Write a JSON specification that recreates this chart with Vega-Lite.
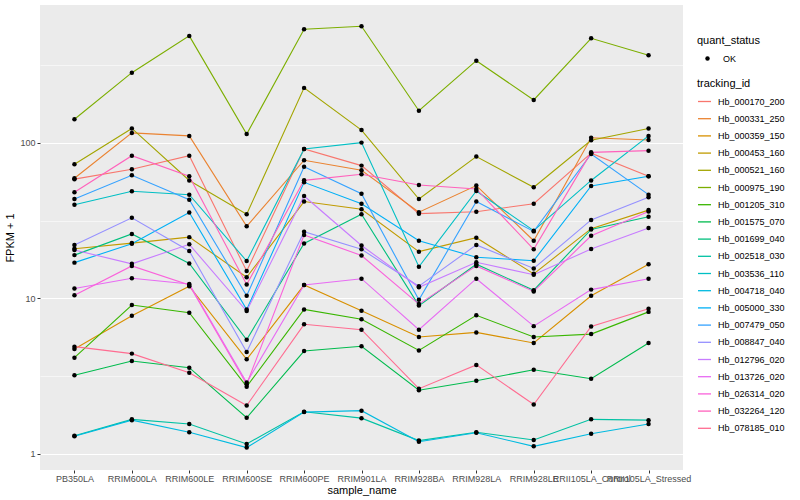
{
"$schema":"https://vega.github.io/schema/vega-lite/v6.json",
"width":643,"height":465,
"autosize":{"type":"none"},
"padding":{"left":40,"top":5,"right":117,"bottom":30},
"background":"white",
"config":{
 "view":{"fill":"#EBEBEB","stroke":null},
 "font":"Liberation Sans",
 "axis":{"domain":false,"gridColor":"white","tickColor":"#333333","tickSize":3,"tickWidth":1,"labelColor":"#4D4D4D","labelFontSize":9,"titleFontSize":11,"titleColor":"black","titleFontWeight":"normal","labelFont":"Liberation Sans","titleFont":"Liberation Sans"},
 "legend":{"titleFontSize":11,"titleFontWeight":"normal","titleColor":"black","labelFontSize":9,"labelColor":"black","titleFont":"Liberation Sans","labelFont":"Liberation Sans"}
},
"datasets":{"expr":[
{"sample_name":"PB350LA","tracking_id":"Hb_000170_200","fpkm_plus_1":58.5,"quant_status":"OK"},
{"sample_name":"RRIM600LA","tracking_id":"Hb_000170_200","fpkm_plus_1":67.8,"quant_status":"OK"},
{"sample_name":"RRIM600LE","tracking_id":"Hb_000170_200","fpkm_plus_1":82.8,"quant_status":"OK"},
{"sample_name":"RRIM600SE","tracking_id":"Hb_000170_200","fpkm_plus_1":15.0,"quant_status":"OK"},
{"sample_name":"RRIM600PE","tracking_id":"Hb_000170_200","fpkm_plus_1":91.5,"quant_status":"OK"},
{"sample_name":"RRIM901LA","tracking_id":"Hb_000170_200","fpkm_plus_1":71.5,"quant_status":"OK"},
{"sample_name":"RRIM928BA","tracking_id":"Hb_000170_200","fpkm_plus_1":35.1,"quant_status":"OK"},
{"sample_name":"RRIM928LA","tracking_id":"Hb_000170_200","fpkm_plus_1":36.1,"quant_status":"OK"},
{"sample_name":"RRIM928LE","tracking_id":"Hb_000170_200","fpkm_plus_1":40.7,"quant_status":"OK"},
{"sample_name":"RRII105LA_Control","tracking_id":"Hb_000170_200","fpkm_plus_1":86,"quant_status":"OK"},
{"sample_name":"RRII105LA_Stressed","tracking_id":"Hb_000170_200","fpkm_plus_1":61.1,"quant_status":"OK"},
{"sample_name":"PB350LA","tracking_id":"Hb_000331_250","fpkm_plus_1":59.3,"quant_status":"OK"},
{"sample_name":"RRIM600LA","tracking_id":"Hb_000331_250","fpkm_plus_1":116,"quant_status":"OK"},
{"sample_name":"RRIM600LE","tracking_id":"Hb_000331_250","fpkm_plus_1":111,"quant_status":"OK"},
{"sample_name":"RRIM600SE","tracking_id":"Hb_000331_250","fpkm_plus_1":29.1,"quant_status":"OK"},
{"sample_name":"RRIM600PE","tracking_id":"Hb_000331_250","fpkm_plus_1":77.4,"quant_status":"OK"},
{"sample_name":"RRIM901LA","tracking_id":"Hb_000331_250","fpkm_plus_1":66.7,"quant_status":"OK"},
{"sample_name":"RRIM928BA","tracking_id":"Hb_000331_250","fpkm_plus_1":35.9,"quant_status":"OK"},
{"sample_name":"RRIM928LA","tracking_id":"Hb_000331_250","fpkm_plus_1":53.2,"quant_status":"OK"},
{"sample_name":"RRIM928LE","tracking_id":"Hb_000331_250","fpkm_plus_1":23.5,"quant_status":"OK"},
{"sample_name":"RRII105LA_Control","tracking_id":"Hb_000331_250","fpkm_plus_1":108,"quant_status":"OK"},
{"sample_name":"RRII105LA_Stressed","tracking_id":"Hb_000331_250","fpkm_plus_1":104.5,"quant_status":"OK"},
{"sample_name":"PB350LA","tracking_id":"Hb_000359_150","fpkm_plus_1":4.73,"quant_status":"OK"},
{"sample_name":"RRIM600LA","tracking_id":"Hb_000359_150","fpkm_plus_1":7.75,"quant_status":"OK"},
{"sample_name":"RRIM600LE","tracking_id":"Hb_000359_150","fpkm_plus_1":12.0,"quant_status":"OK"},
{"sample_name":"RRIM600SE","tracking_id":"Hb_000359_150","fpkm_plus_1":4.06,"quant_status":"OK"},
{"sample_name":"RRIM600PE","tracking_id":"Hb_000359_150","fpkm_plus_1":12.2,"quant_status":"OK"},
{"sample_name":"RRIM901LA","tracking_id":"Hb_000359_150","fpkm_plus_1":8.35,"quant_status":"OK"},
{"sample_name":"RRIM928BA","tracking_id":"Hb_000359_150","fpkm_plus_1":5.65,"quant_status":"OK"},
{"sample_name":"RRIM928LA","tracking_id":"Hb_000359_150","fpkm_plus_1":6.05,"quant_status":"OK"},
{"sample_name":"RRIM928LE","tracking_id":"Hb_000359_150","fpkm_plus_1":5.17,"quant_status":"OK"},
{"sample_name":"RRII105LA_Control","tracking_id":"Hb_000359_150","fpkm_plus_1":10.4,"quant_status":"OK"},
{"sample_name":"RRII105LA_Stressed","tracking_id":"Hb_000359_150","fpkm_plus_1":16.6,"quant_status":"OK"},
{"sample_name":"PB350LA","tracking_id":"Hb_000453_160","fpkm_plus_1":20.9,"quant_status":"OK"},
{"sample_name":"RRIM600LA","tracking_id":"Hb_000453_160","fpkm_plus_1":22.7,"quant_status":"OK"},
{"sample_name":"RRIM600LE","tracking_id":"Hb_000453_160","fpkm_plus_1":24.8,"quant_status":"OK"},
{"sample_name":"RRIM600SE","tracking_id":"Hb_000453_160","fpkm_plus_1":13.7,"quant_status":"OK"},
{"sample_name":"RRIM600PE","tracking_id":"Hb_000453_160","fpkm_plus_1":42.0,"quant_status":"OK"},
{"sample_name":"RRIM901LA","tracking_id":"Hb_000453_160","fpkm_plus_1":37.5,"quant_status":"OK"},
{"sample_name":"RRIM928BA","tracking_id":"Hb_000453_160","fpkm_plus_1":20.0,"quant_status":"OK"},
{"sample_name":"RRIM928LA","tracking_id":"Hb_000453_160","fpkm_plus_1":24.6,"quant_status":"OK"},
{"sample_name":"RRIM928LE","tracking_id":"Hb_000453_160","fpkm_plus_1":14.4,"quant_status":"OK"},
{"sample_name":"RRII105LA_Control","tracking_id":"Hb_000453_160","fpkm_plus_1":28.1,"quant_status":"OK"},
{"sample_name":"RRII105LA_Stressed","tracking_id":"Hb_000453_160","fpkm_plus_1":37.0,"quant_status":"OK"},
{"sample_name":"PB350LA","tracking_id":"Hb_000521_160","fpkm_plus_1":72.9,"quant_status":"OK"},
{"sample_name":"RRIM600LA","tracking_id":"Hb_000521_160","fpkm_plus_1":124,"quant_status":"OK"},
{"sample_name":"RRIM600LE","tracking_id":"Hb_000521_160","fpkm_plus_1":57.4,"quant_status":"OK"},
{"sample_name":"RRIM600SE","tracking_id":"Hb_000521_160","fpkm_plus_1":34.8,"quant_status":"OK"},
{"sample_name":"RRIM600PE","tracking_id":"Hb_000521_160","fpkm_plus_1":226,"quant_status":"OK"},
{"sample_name":"RRIM901LA","tracking_id":"Hb_000521_160","fpkm_plus_1":121,"quant_status":"OK"},
{"sample_name":"RRIM928BA","tracking_id":"Hb_000521_160","fpkm_plus_1":43.6,"quant_status":"OK"},
{"sample_name":"RRIM928LA","tracking_id":"Hb_000521_160","fpkm_plus_1":81.7,"quant_status":"OK"},
{"sample_name":"RRIM928LE","tracking_id":"Hb_000521_160","fpkm_plus_1":51.9,"quant_status":"OK"},
{"sample_name":"RRII105LA_Control","tracking_id":"Hb_000521_160","fpkm_plus_1":104,"quant_status":"OK"},
{"sample_name":"RRII105LA_Stressed","tracking_id":"Hb_000521_160","fpkm_plus_1":124,"quant_status":"OK"},
{"sample_name":"PB350LA","tracking_id":"Hb_000975_190","fpkm_plus_1":142,"quant_status":"OK"},
{"sample_name":"RRIM600LA","tracking_id":"Hb_000975_190","fpkm_plus_1":283,"quant_status":"OK"},
{"sample_name":"RRIM600LE","tracking_id":"Hb_000975_190","fpkm_plus_1":488,"quant_status":"OK"},
{"sample_name":"RRIM600SE","tracking_id":"Hb_000975_190","fpkm_plus_1":114,"quant_status":"OK"},
{"sample_name":"RRIM600PE","tracking_id":"Hb_000975_190","fpkm_plus_1":538,"quant_status":"OK"},
{"sample_name":"RRIM901LA","tracking_id":"Hb_000975_190","fpkm_plus_1":563,"quant_status":"OK"},
{"sample_name":"RRIM928BA","tracking_id":"Hb_000975_190","fpkm_plus_1":161,"quant_status":"OK"},
{"sample_name":"RRIM928LA","tracking_id":"Hb_000975_190","fpkm_plus_1":338,"quant_status":"OK"},
{"sample_name":"RRIM928LE","tracking_id":"Hb_000975_190","fpkm_plus_1":189,"quant_status":"OK"},
{"sample_name":"RRII105LA_Control","tracking_id":"Hb_000975_190","fpkm_plus_1":471,"quant_status":"OK"},
{"sample_name":"RRII105LA_Stressed","tracking_id":"Hb_000975_190","fpkm_plus_1":366,"quant_status":"OK"},
{"sample_name":"PB350LA","tracking_id":"Hb_001205_310","fpkm_plus_1":4.16,"quant_status":"OK"},
{"sample_name":"RRIM600LA","tracking_id":"Hb_001205_310","fpkm_plus_1":9.08,"quant_status":"OK"},
{"sample_name":"RRIM600LE","tracking_id":"Hb_001205_310","fpkm_plus_1":8.1,"quant_status":"OK"},
{"sample_name":"RRIM600SE","tracking_id":"Hb_001205_310","fpkm_plus_1":2.71,"quant_status":"OK"},
{"sample_name":"RRIM600PE","tracking_id":"Hb_001205_310","fpkm_plus_1":8.5,"quant_status":"OK"},
{"sample_name":"RRIM901LA","tracking_id":"Hb_001205_310","fpkm_plus_1":7.36,"quant_status":"OK"},
{"sample_name":"RRIM928BA","tracking_id":"Hb_001205_310","fpkm_plus_1":4.63,"quant_status":"OK"},
{"sample_name":"RRIM928LA","tracking_id":"Hb_001205_310","fpkm_plus_1":7.8,"quant_status":"OK"},
{"sample_name":"RRIM928LE","tracking_id":"Hb_001205_310","fpkm_plus_1":5.65,"quant_status":"OK"},
{"sample_name":"RRII105LA_Control","tracking_id":"Hb_001205_310","fpkm_plus_1":5.9,"quant_status":"OK"},
{"sample_name":"RRII105LA_Stressed","tracking_id":"Hb_001205_310","fpkm_plus_1":8.2,"quant_status":"OK"},
{"sample_name":"PB350LA","tracking_id":"Hb_001575_070","fpkm_plus_1":3.21,"quant_status":"OK"},
{"sample_name":"RRIM600LA","tracking_id":"Hb_001575_070","fpkm_plus_1":3.96,"quant_status":"OK"},
{"sample_name":"RRIM600LE","tracking_id":"Hb_001575_070","fpkm_plus_1":3.59,"quant_status":"OK"},
{"sample_name":"RRIM600SE","tracking_id":"Hb_001575_070","fpkm_plus_1":1.71,"quant_status":"OK"},
{"sample_name":"RRIM600PE","tracking_id":"Hb_001575_070","fpkm_plus_1":4.59,"quant_status":"OK"},
{"sample_name":"RRIM901LA","tracking_id":"Hb_001575_070","fpkm_plus_1":4.93,"quant_status":"OK"},
{"sample_name":"RRIM928BA","tracking_id":"Hb_001575_070","fpkm_plus_1":2.57,"quant_status":"OK"},
{"sample_name":"RRIM928LA","tracking_id":"Hb_001575_070","fpkm_plus_1":2.96,"quant_status":"OK"},
{"sample_name":"RRIM928LE","tracking_id":"Hb_001575_070","fpkm_plus_1":3.48,"quant_status":"OK"},
{"sample_name":"RRII105LA_Control","tracking_id":"Hb_001575_070","fpkm_plus_1":3.05,"quant_status":"OK"},
{"sample_name":"RRII105LA_Stressed","tracking_id":"Hb_001575_070","fpkm_plus_1":5.17,"quant_status":"OK"},
{"sample_name":"PB350LA","tracking_id":"Hb_001699_040","fpkm_plus_1":19.0,"quant_status":"OK"},
{"sample_name":"RRIM600LA","tracking_id":"Hb_001699_040","fpkm_plus_1":26.0,"quant_status":"OK"},
{"sample_name":"RRIM600LE","tracking_id":"Hb_001699_040","fpkm_plus_1":16.8,"quant_status":"OK"},
{"sample_name":"RRIM600SE","tracking_id":"Hb_001699_040","fpkm_plus_1":5.42,"quant_status":"OK"},
{"sample_name":"RRIM600PE","tracking_id":"Hb_001699_040","fpkm_plus_1":22.6,"quant_status":"OK"},
{"sample_name":"RRIM901LA","tracking_id":"Hb_001699_040","fpkm_plus_1":34.8,"quant_status":"OK"},
{"sample_name":"RRIM928BA","tracking_id":"Hb_001699_040","fpkm_plus_1":9.0,"quant_status":"OK"},
{"sample_name":"RRIM928LA","tracking_id":"Hb_001699_040","fpkm_plus_1":16.6,"quant_status":"OK"},
{"sample_name":"RRIM928LE","tracking_id":"Hb_001699_040","fpkm_plus_1":11.3,"quant_status":"OK"},
{"sample_name":"RRII105LA_Control","tracking_id":"Hb_001699_040","fpkm_plus_1":27.8,"quant_status":"OK"},
{"sample_name":"RRII105LA_Stressed","tracking_id":"Hb_001699_040","fpkm_plus_1":33.5,"quant_status":"OK"},
{"sample_name":"PB350LA","tracking_id":"Hb_002518_030","fpkm_plus_1":1.31,"quant_status":"OK"},
{"sample_name":"RRIM600LA","tracking_id":"Hb_002518_030","fpkm_plus_1":1.67,"quant_status":"OK"},
{"sample_name":"RRIM600LE","tracking_id":"Hb_002518_030","fpkm_plus_1":1.56,"quant_status":"OK"},
{"sample_name":"RRIM600SE","tracking_id":"Hb_002518_030","fpkm_plus_1":1.16,"quant_status":"OK"},
{"sample_name":"RRIM600PE","tracking_id":"Hb_002518_030","fpkm_plus_1":1.87,"quant_status":"OK"},
{"sample_name":"RRIM901LA","tracking_id":"Hb_002518_030","fpkm_plus_1":1.70,"quant_status":"OK"},
{"sample_name":"RRIM928BA","tracking_id":"Hb_002518_030","fpkm_plus_1":1.22,"quant_status":"OK"},
{"sample_name":"RRIM928LA","tracking_id":"Hb_002518_030","fpkm_plus_1":1.38,"quant_status":"OK"},
{"sample_name":"RRIM928LE","tracking_id":"Hb_002518_030","fpkm_plus_1":1.23,"quant_status":"OK"},
{"sample_name":"RRII105LA_Control","tracking_id":"Hb_002518_030","fpkm_plus_1":1.67,"quant_status":"OK"},
{"sample_name":"RRII105LA_Stressed","tracking_id":"Hb_002518_030","fpkm_plus_1":1.65,"quant_status":"OK"},
{"sample_name":"PB350LA","tracking_id":"Hb_003536_110","fpkm_plus_1":40.1,"quant_status":"OK"},
{"sample_name":"RRIM600LA","tracking_id":"Hb_003536_110","fpkm_plus_1":48.9,"quant_status":"OK"},
{"sample_name":"RRIM600LE","tracking_id":"Hb_003536_110","fpkm_plus_1":46.5,"quant_status":"OK"},
{"sample_name":"RRIM600SE","tracking_id":"Hb_003536_110","fpkm_plus_1":17.4,"quant_status":"OK"},
{"sample_name":"RRIM600PE","tracking_id":"Hb_003536_110","fpkm_plus_1":91.5,"quant_status":"OK"},
{"sample_name":"RRIM901LA","tracking_id":"Hb_003536_110","fpkm_plus_1":100.5,"quant_status":"OK"},
{"sample_name":"RRIM928BA","tracking_id":"Hb_003536_110","fpkm_plus_1":16.0,"quant_status":"OK"},
{"sample_name":"RRIM928LA","tracking_id":"Hb_003536_110","fpkm_plus_1":49.1,"quant_status":"OK"},
{"sample_name":"RRIM928LE","tracking_id":"Hb_003536_110","fpkm_plus_1":27.3,"quant_status":"OK"},
{"sample_name":"RRII105LA_Control","tracking_id":"Hb_003536_110","fpkm_plus_1":57.4,"quant_status":"OK"},
{"sample_name":"RRII105LA_Stressed","tracking_id":"Hb_003536_110","fpkm_plus_1":111,"quant_status":"OK"},
{"sample_name":"PB350LA","tracking_id":"Hb_004718_040","fpkm_plus_1":1.30,"quant_status":"OK"},
{"sample_name":"RRIM600LA","tracking_id":"Hb_004718_040","fpkm_plus_1":1.65,"quant_status":"OK"},
{"sample_name":"RRIM600LE","tracking_id":"Hb_004718_040","fpkm_plus_1":1.38,"quant_status":"OK"},
{"sample_name":"RRIM600SE","tracking_id":"Hb_004718_040","fpkm_plus_1":1.10,"quant_status":"OK"},
{"sample_name":"RRIM600PE","tracking_id":"Hb_004718_040","fpkm_plus_1":1.86,"quant_status":"OK"},
{"sample_name":"RRIM901LA","tracking_id":"Hb_004718_040","fpkm_plus_1":1.90,"quant_status":"OK"},
{"sample_name":"RRIM928BA","tracking_id":"Hb_004718_040","fpkm_plus_1":1.20,"quant_status":"OK"},
{"sample_name":"RRIM928LA","tracking_id":"Hb_004718_040","fpkm_plus_1":1.37,"quant_status":"OK"},
{"sample_name":"RRIM928LE","tracking_id":"Hb_004718_040","fpkm_plus_1":1.12,"quant_status":"OK"},
{"sample_name":"RRII105LA_Control","tracking_id":"Hb_004718_040","fpkm_plus_1":1.35,"quant_status":"OK"},
{"sample_name":"RRII105LA_Stressed","tracking_id":"Hb_004718_040","fpkm_plus_1":1.56,"quant_status":"OK"},
{"sample_name":"PB350LA","tracking_id":"Hb_005000_330","fpkm_plus_1":17.0,"quant_status":"OK"},
{"sample_name":"RRIM600LA","tracking_id":"Hb_005000_330","fpkm_plus_1":22.5,"quant_status":"OK"},
{"sample_name":"RRIM600LE","tracking_id":"Hb_005000_330","fpkm_plus_1":35.7,"quant_status":"OK"},
{"sample_name":"RRIM600SE","tracking_id":"Hb_005000_330","fpkm_plus_1":8.5,"quant_status":"OK"},
{"sample_name":"RRIM600PE","tracking_id":"Hb_005000_330","fpkm_plus_1":55.8,"quant_status":"OK"},
{"sample_name":"RRIM901LA","tracking_id":"Hb_005000_330","fpkm_plus_1":40.7,"quant_status":"OK"},
{"sample_name":"RRIM928BA","tracking_id":"Hb_005000_330","fpkm_plus_1":23.5,"quant_status":"OK"},
{"sample_name":"RRIM928LA","tracking_id":"Hb_005000_330","fpkm_plus_1":18.4,"quant_status":"OK"},
{"sample_name":"RRIM928LE","tracking_id":"Hb_005000_330","fpkm_plus_1":17.5,"quant_status":"OK"},
{"sample_name":"RRII105LA_Control","tracking_id":"Hb_005000_330","fpkm_plus_1":52.9,"quant_status":"OK"},
{"sample_name":"RRII105LA_Stressed","tracking_id":"Hb_005000_330","fpkm_plus_1":61.1,"quant_status":"OK"},
{"sample_name":"PB350LA","tracking_id":"Hb_007479_050","fpkm_plus_1":43.6,"quant_status":"OK"},
{"sample_name":"RRIM600LA","tracking_id":"Hb_007479_050","fpkm_plus_1":62.0,"quant_status":"OK"},
{"sample_name":"RRIM600LE","tracking_id":"Hb_007479_050","fpkm_plus_1":43.2,"quant_status":"OK"},
{"sample_name":"RRIM600SE","tracking_id":"Hb_007479_050","fpkm_plus_1":10.4,"quant_status":"OK"},
{"sample_name":"RRIM600PE","tracking_id":"Hb_007479_050","fpkm_plus_1":70.4,"quant_status":"OK"},
{"sample_name":"RRIM901LA","tracking_id":"Hb_007479_050","fpkm_plus_1":47.2,"quant_status":"OK"},
{"sample_name":"RRIM928BA","tracking_id":"Hb_007479_050","fpkm_plus_1":9.8,"quant_status":"OK"},
{"sample_name":"RRIM928LA","tracking_id":"Hb_007479_050","fpkm_plus_1":42.0,"quant_status":"OK"},
{"sample_name":"RRIM928LE","tracking_id":"Hb_007479_050","fpkm_plus_1":27.0,"quant_status":"OK"},
{"sample_name":"RRII105LA_Control","tracking_id":"Hb_007479_050","fpkm_plus_1":85,"quant_status":"OK"},
{"sample_name":"RRII105LA_Stressed","tracking_id":"Hb_007479_050","fpkm_plus_1":46.5,"quant_status":"OK"},
{"sample_name":"PB350LA","tracking_id":"Hb_008847_040","fpkm_plus_1":22.1,"quant_status":"OK"},
{"sample_name":"RRIM600LA","tracking_id":"Hb_008847_040","fpkm_plus_1":33.0,"quant_status":"OK"},
{"sample_name":"RRIM600LE","tracking_id":"Hb_008847_040","fpkm_plus_1":20.2,"quant_status":"OK"},
{"sample_name":"RRIM600SE","tracking_id":"Hb_008847_040","fpkm_plus_1":4.53,"quant_status":"OK"},
{"sample_name":"RRIM600PE","tracking_id":"Hb_008847_040","fpkm_plus_1":26.9,"quant_status":"OK"},
{"sample_name":"RRIM901LA","tracking_id":"Hb_008847_040","fpkm_plus_1":20.7,"quant_status":"OK"},
{"sample_name":"RRIM928BA","tracking_id":"Hb_008847_040","fpkm_plus_1":12.0,"quant_status":"OK"},
{"sample_name":"RRIM928LA","tracking_id":"Hb_008847_040","fpkm_plus_1":22.1,"quant_status":"OK"},
{"sample_name":"RRIM928LE","tracking_id":"Hb_008847_040","fpkm_plus_1":15.6,"quant_status":"OK"},
{"sample_name":"RRII105LA_Control","tracking_id":"Hb_008847_040","fpkm_plus_1":32.0,"quant_status":"OK"},
{"sample_name":"RRII105LA_Stressed","tracking_id":"Hb_008847_040","fpkm_plus_1":44.8,"quant_status":"OK"},
{"sample_name":"PB350LA","tracking_id":"Hb_012796_020","fpkm_plus_1":20.5,"quant_status":"OK"},
{"sample_name":"RRIM600LA","tracking_id":"Hb_012796_020","fpkm_plus_1":16.7,"quant_status":"OK"},
{"sample_name":"RRIM600LE","tracking_id":"Hb_012796_020","fpkm_plus_1":22.3,"quant_status":"OK"},
{"sample_name":"RRIM600SE","tracking_id":"Hb_012796_020","fpkm_plus_1":8.3,"quant_status":"OK"},
{"sample_name":"RRIM600PE","tracking_id":"Hb_012796_020","fpkm_plus_1":45.6,"quant_status":"OK"},
{"sample_name":"RRIM901LA","tracking_id":"Hb_012796_020","fpkm_plus_1":21.9,"quant_status":"OK"},
{"sample_name":"RRIM928BA","tracking_id":"Hb_012796_020","fpkm_plus_1":11.8,"quant_status":"OK"},
{"sample_name":"RRIM928LA","tracking_id":"Hb_012796_020","fpkm_plus_1":17.1,"quant_status":"OK"},
{"sample_name":"RRIM928LE","tracking_id":"Hb_012796_020","fpkm_plus_1":14.2,"quant_status":"OK"},
{"sample_name":"RRII105LA_Control","tracking_id":"Hb_012796_020","fpkm_plus_1":20.8,"quant_status":"OK"},
{"sample_name":"RRII105LA_Stressed","tracking_id":"Hb_012796_020","fpkm_plus_1":28.4,"quant_status":"OK"},
{"sample_name":"PB350LA","tracking_id":"Hb_013726_020","fpkm_plus_1":11.6,"quant_status":"OK"},
{"sample_name":"RRIM600LA","tracking_id":"Hb_013726_020","fpkm_plus_1":13.5,"quant_status":"OK"},
{"sample_name":"RRIM600LE","tracking_id":"Hb_013726_020","fpkm_plus_1":12.4,"quant_status":"OK"},
{"sample_name":"RRIM600SE","tracking_id":"Hb_013726_020","fpkm_plus_1":2.88,"quant_status":"OK"},
{"sample_name":"RRIM600PE","tracking_id":"Hb_013726_020","fpkm_plus_1":12.2,"quant_status":"OK"},
{"sample_name":"RRIM901LA","tracking_id":"Hb_013726_020","fpkm_plus_1":13.4,"quant_status":"OK"},
{"sample_name":"RRIM928BA","tracking_id":"Hb_013726_020","fpkm_plus_1":6.3,"quant_status":"OK"},
{"sample_name":"RRIM928LA","tracking_id":"Hb_013726_020","fpkm_plus_1":13.4,"quant_status":"OK"},
{"sample_name":"RRIM928LE","tracking_id":"Hb_013726_020","fpkm_plus_1":6.64,"quant_status":"OK"},
{"sample_name":"RRII105LA_Control","tracking_id":"Hb_013726_020","fpkm_plus_1":11.4,"quant_status":"OK"},
{"sample_name":"RRII105LA_Stressed","tracking_id":"Hb_013726_020","fpkm_plus_1":13.4,"quant_status":"OK"},
{"sample_name":"PB350LA","tracking_id":"Hb_026314_020","fpkm_plus_1":10.5,"quant_status":"OK"},
{"sample_name":"RRIM600LA","tracking_id":"Hb_026314_020","fpkm_plus_1":16.2,"quant_status":"OK"},
{"sample_name":"RRIM600LE","tracking_id":"Hb_026314_020","fpkm_plus_1":12.2,"quant_status":"OK"},
{"sample_name":"RRIM600SE","tracking_id":"Hb_026314_020","fpkm_plus_1":2.81,"quant_status":"OK"},
{"sample_name":"RRIM600PE","tracking_id":"Hb_026314_020","fpkm_plus_1":25.6,"quant_status":"OK"},
{"sample_name":"RRIM901LA","tracking_id":"Hb_026314_020","fpkm_plus_1":18.9,"quant_status":"OK"},
{"sample_name":"RRIM928BA","tracking_id":"Hb_026314_020","fpkm_plus_1":9.2,"quant_status":"OK"},
{"sample_name":"RRIM928LA","tracking_id":"Hb_026314_020","fpkm_plus_1":16.2,"quant_status":"OK"},
{"sample_name":"RRIM928LE","tracking_id":"Hb_026314_020","fpkm_plus_1":11.1,"quant_status":"OK"},
{"sample_name":"RRII105LA_Control","tracking_id":"Hb_026314_020","fpkm_plus_1":25.3,"quant_status":"OK"},
{"sample_name":"RRII105LA_Stressed","tracking_id":"Hb_026314_020","fpkm_plus_1":36.3,"quant_status":"OK"},
{"sample_name":"PB350LA","tracking_id":"Hb_032264_120","fpkm_plus_1":48.2,"quant_status":"OK"},
{"sample_name":"RRIM600LA","tracking_id":"Hb_032264_120","fpkm_plus_1":82.8,"quant_status":"OK"},
{"sample_name":"RRIM600LE","tracking_id":"Hb_032264_120","fpkm_plus_1":61.1,"quant_status":"OK"},
{"sample_name":"RRIM600SE","tracking_id":"Hb_032264_120","fpkm_plus_1":12.3,"quant_status":"OK"},
{"sample_name":"RRIM600PE","tracking_id":"Hb_032264_120","fpkm_plus_1":57.5,"quant_status":"OK"},
{"sample_name":"RRIM901LA","tracking_id":"Hb_032264_120","fpkm_plus_1":62.9,"quant_status":"OK"},
{"sample_name":"RRIM928BA","tracking_id":"Hb_032264_120","fpkm_plus_1":53.7,"quant_status":"OK"},
{"sample_name":"RRIM928LA","tracking_id":"Hb_032264_120","fpkm_plus_1":50.6,"quant_status":"OK"},
{"sample_name":"RRIM928LE","tracking_id":"Hb_032264_120","fpkm_plus_1":20.7,"quant_status":"OK"},
{"sample_name":"RRII105LA_Control","tracking_id":"Hb_032264_120","fpkm_plus_1":87,"quant_status":"OK"},
{"sample_name":"RRII105LA_Stressed","tracking_id":"Hb_032264_120","fpkm_plus_1":89.2,"quant_status":"OK"},
{"sample_name":"PB350LA","tracking_id":"Hb_078185_010","fpkm_plus_1":4.90,"quant_status":"OK"},
{"sample_name":"RRIM600LA","tracking_id":"Hb_078185_010","fpkm_plus_1":4.42,"quant_status":"OK"},
{"sample_name":"RRIM600LE","tracking_id":"Hb_078185_010","fpkm_plus_1":3.33,"quant_status":"OK"},
{"sample_name":"RRIM600SE","tracking_id":"Hb_078185_010","fpkm_plus_1":2.05,"quant_status":"OK"},
{"sample_name":"RRIM600PE","tracking_id":"Hb_078185_010","fpkm_plus_1":6.82,"quant_status":"OK"},
{"sample_name":"RRIM901LA","tracking_id":"Hb_078185_010","fpkm_plus_1":6.3,"quant_status":"OK"},
{"sample_name":"RRIM928BA","tracking_id":"Hb_078185_010","fpkm_plus_1":2.63,"quant_status":"OK"},
{"sample_name":"RRIM928LA","tracking_id":"Hb_078185_010","fpkm_plus_1":3.74,"quant_status":"OK"},
{"sample_name":"RRIM928LE","tracking_id":"Hb_078185_010","fpkm_plus_1":2.08,"quant_status":"OK"},
{"sample_name":"RRII105LA_Control","tracking_id":"Hb_078185_010","fpkm_plus_1":6.6,"quant_status":"OK"},
{"sample_name":"RRII105LA_Stressed","tracking_id":"Hb_078185_010","fpkm_plus_1":8.6,"quant_status":"OK"}
]},
"data":{"name":"expr"},
"encoding":{
 "x":{"field":"sample_name","type":"nominal",
  "sort":["PB350LA","RRIM600LA","RRIM600LE","RRIM600SE","RRIM600PE","RRIM901LA","RRIM928BA","RRIM928LA","RRIM928LE","RRII105LA_Control","RRII105LA_Stressed"],
  "scale":{"type":"point","padding":0.6},
  "axis":{"title":"sample_name","labelAngle":0,"labelOverlap":false,"labelFlush":false,"gridWidth":1.1,"labelPadding":1,"titlePadding":1}},
 "y":{"field":"fpkm_plus_1","type":"quantitative",
  "scale":{"type":"log","domain":[0.789,771],"nice":false,"zero":false},
  "axis":{"title":"FPKM + 1","values":[1,3.16228,10,31.6228,100,316.228],"format":"~g",
   "labelExpr":"(datum.value == 1 || datum.value == 10 || datum.value == 100) ? datum.label : ''",
   "tickOpacity":{"condition":{"test":"datum.value == 1 || datum.value == 10 || datum.value == 100","value":1},"value":0},
   "gridWidth":{"condition":{"test":"datum.value == 1 || datum.value == 10 || datum.value == 100","value":1.1},"value":0.55},
   "labelPadding":2,"titlePadding":4}}
},
"layer":[
 {"mark":{"type":"line","strokeWidth":1.1},
  "encoding":{"color":{"field":"tracking_id","type":"nominal",
   "scale":{"domain":["Hb_000170_200","Hb_000331_250","Hb_000359_150","Hb_000453_160","Hb_000521_160","Hb_000975_190","Hb_001205_310","Hb_001575_070","Hb_001699_040","Hb_002518_030","Hb_003536_110","Hb_004718_040","Hb_005000_330","Hb_007479_050","Hb_008847_040","Hb_012796_020","Hb_013726_020","Hb_026314_020","Hb_032264_120","Hb_078185_010"],
    "range":["#F8766D","#EA8331","#D89000","#C09B00","#A3A500","#7CAE00","#39B600","#00BB4E","#00BF7D","#00C1A3","#00BFC4","#00BAE0","#00B0F6","#35A2FF","#9590FF","#C77CFF","#E76BF3","#FA62DB","#FF62BC","#FF6C91"]},
   "legend":{"title":"tracking_id","orient":"none","legendX":657,"legendY":73,"symbolType":"stroke","symbolSize":170,"symbolStrokeWidth":1.3,"rowPadding":4.2,"titlePadding":5,"labelOffset":6}}}},
 {"mark":{"type":"point","filled":true,"color":"black","opacity":1,"size":20},
  "encoding":{"shape":{"field":"quant_status","type":"nominal","scale":{"domain":["OK"],"range":["circle"]},
   "legend":{"title":"quant_status","orient":"none","legendX":657,"legendY":30,"symbolFillColor":"black","symbolStrokeColor":"black","symbolSize":20,"symbolOffset":6,"labelOffset":11,"titlePadding":8}}}}
]
}
